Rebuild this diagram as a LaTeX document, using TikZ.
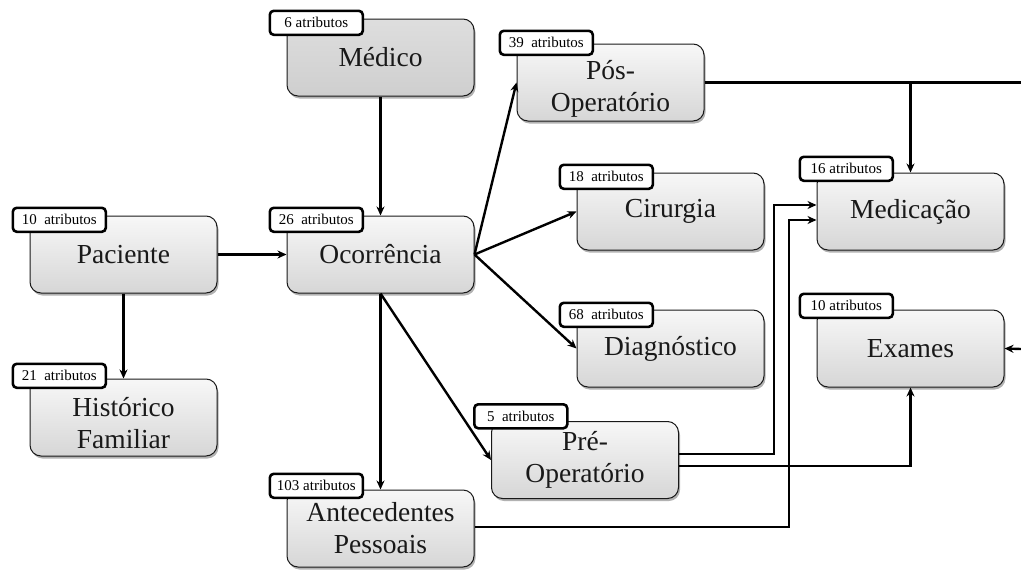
\documentclass[tikz,border=0pt]{standalone}
\usepackage{fontspec}
\setmainfont{Liberation Serif}
\usetikzlibrary{arrows.meta,shadows}

\tikzset{
  entity/.style={rectangle, rounded corners=11pt, draw=black!90, line width=1pt,
    top color=gray!6, bottom color=gray!32, minimum width=187pt, minimum height=77pt,
    inner sep=0pt, align=center, text=black!90,
    font=\fontsize{27.5}{32}\selectfont,
    drop shadow={shadow xshift=1.5pt, shadow yshift=-2.5pt, fill=black, opacity=0.3}},
  darkentity/.style={entity, top color=gray!26, bottom color=gray!38},
  attrtag/.style={rectangle, rounded corners=4pt, draw=black, line width=2.6pt, fill=white,
    minimum width=93pt, minimum height=24pt, inner sep=1pt,
    font=\fontsize{15}{16}\selectfont, anchor=north west},
  link/.style={line width=2.4pt, -{Stealth[length=9pt,width=8pt]}},
  plain/.style={line width=2.4pt}
}

% attribute counter tag on the top-left corner of an entity
\newcommand{\attrcount}[3]{%
  \node[attrtag] (#1-tag) at ([shift={(-18,-#2)}]#1.north west) {#3};}
% strut that lowers a two-line label a little
\newcommand{\lowerstrut}{\rule{0pt}{31pt}}

\begin{document}
\begin{tikzpicture}[x=1pt,y=-1pt]
\useasboundingbox (0,0) rectangle (1021,570);

% entities
\node[entity]     (pac) at (123.5,254.5) {Paciente};
\node[darkentity] (med) at (380.5,57.5)  {Médico};
\node[entity]     (oco) at (380.5,254.5) {Ocorrência};
\node[entity]     (his) at (123.5,417.5) {\lowerstrut Histórico\\Familiar};
\node[entity]     (ant) at (380.5,528.5) {Antecedentes\\Pessoais};
\node[entity]     (pos) at (610.5,82.5)  {\lowerstrut Pós-\\Operatório};
\node[entity]     (cir) at (670.5,211.5) {Cirurgia};
\node[entity]     (dia) at (670.5,348.5) {Diagnóstico};
\node[entity]     (pre) at (585,460)     {Pré-\\Operatório};
\node[entity]     (mdc) at (910.5,211.5) {Medicação};
\node[entity]     (exa) at (910.5,348.5) {Exames};

% routing coordinates
\coordinate (edgetop) at (1021,82);
\coordinate (edgemid) at (1021,349);
\coordinate (jA) at (774,0);
\coordinate (jB) at (789,0);
\coordinate (preA) at ([yshift=6pt]pre.east);
\coordinate (preB) at ([yshift=-6pt]pre.east);
\coordinate (antA) at ([yshift=1.5pt]ant.east);
\coordinate (mdcA) at ([yshift=6.5pt]mdc.west);
\coordinate (mdcB) at ([yshift=-8.5pt]mdc.west);

% connectors
\draw[link] (pac) -- (oco);
\draw[link] (pac) -- (his);
\draw[link] (med) -- (oco);
\draw[link] (oco) -- (ant);
\draw[link] (oco.east) -- (pos.west);
\draw[link] (oco.east) -- (cir.west);
\draw[link] (oco.east) -- (dia.west);
\draw[link] (oco.south) -- (pre.west);

\draw[plain] (pos.east) -- (pos.east -| edgetop);
\draw[link] (pos.east -| mdc.north) -- (mdc.north);
\draw[link] (edgemid) -- (exa.east);

\draw[link] (preA) -- (preA -| jA) -- (jA |- mdcA) -- (mdcA);
\draw[link] (preB) -| (exa.south);
\draw[link] (antA) -- (antA -| jB) -- (jB |- mdcB) -- (mdcB);

% attribute counters
\attrcount{pac}{9}{10\ \ atributos}
\attrcount{med}{9}{6 atributos}
\attrcount{oco}{9}{26\ \ atributos}
\attrcount{his}{16}{21\ \ atributos}
\attrcount{ant}{17}{103 atributos}
\attrcount{pos}{14}{39\ \ atributos}
\attrcount{cir}{9}{18\ \ atributos}
\attrcount{dia}{8}{68\ \ atributos}
\attrcount{pre}{18}{5\ \ atributos}
\attrcount{mdc}{17}{16 atributos}
\attrcount{exa}{17}{10 atributos}
\end{tikzpicture}
\end{document}
